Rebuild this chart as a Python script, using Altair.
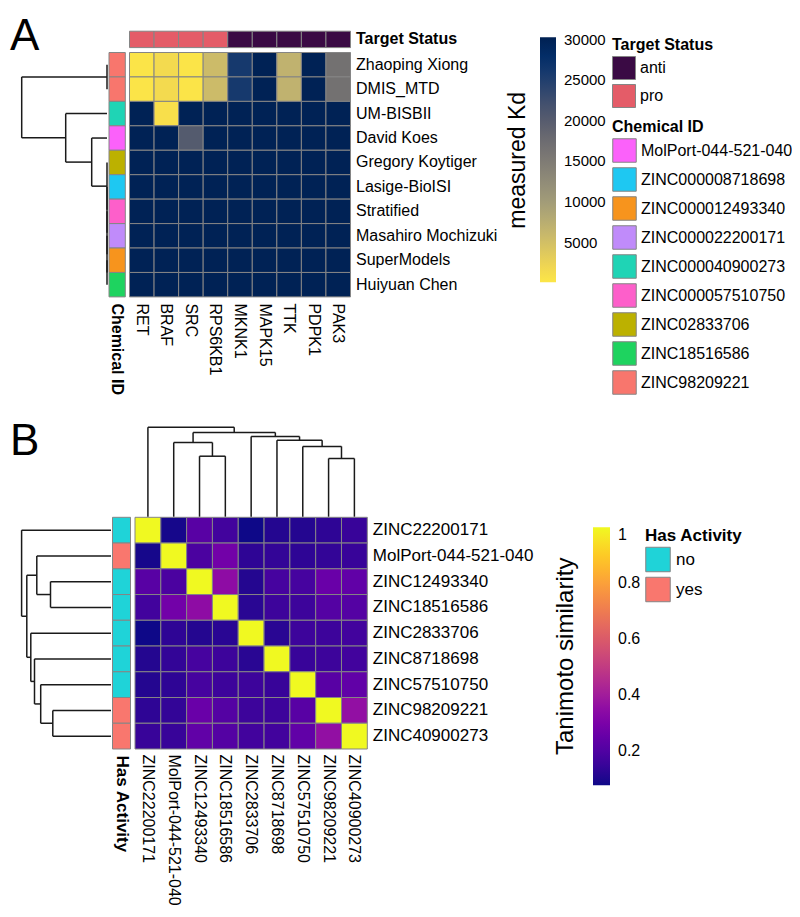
import altair as alt
import pandas as pd

# ---------------- Panel A data ----------------
targets = ["RET", "BRAF", "SRC", "RPS6KB1", "MKNK1", "MAPK15", "TTK", "PDPK1", "PAK3"]
target_status = ["pro", "pro", "pro", "pro", "anti", "anti", "anti", "anti", "anti"]
teams = ["Zhaoping Xiong", "DMIS_MTD", "UM-BISBII", "David Koes", "Gregory Koytiger",
         "Lasige-BioISI", "Stratified", "Masahiro Mochizuki", "SuperModels", "Huiyuan Chen"]
team_chemical = ["ZINC98209221", "ZINC98209221", "ZINC000040900273", "MolPort-044-521-040",
                 "ZINC02833706", "ZINC000008718698", "ZINC000057510750", "ZINC000022200171",
                 "ZINC000012493340", "ZINC18516586"]
kd_rows = [
    [300, 1500, 300, 5600, 26000, 30000, 6800, 30000, 16700],
    [300, 1500, 300, 5600, 26000, 30000, 6800, 30000, 16700],
    [30000, 900, 30000, 30000, 30000, 30000, 30000, 30000, 30000],
    [30000, 30000, 20300, 30000, 30000, 30000, 30000, 30000, 30000],
    [30000, 30000, 30000, 30000, 30000, 30000, 30000, 30000, 30000],
    [30000, 30000, 30000, 30000, 30000, 30000, 30000, 30000, 30000],
    [30000, 30000, 30000, 30000, 30000, 30000, 30000, 30000, 30000],
    [30000, 30000, 30000, 30000, 30000, 30000, 30000, 30000, 30000],
    [30000, 30000, 30000, 30000, 30000, 30000, 30000, 30000, 30000],
    [30000, 30000, 30000, 30000, 30000, 30000, 30000, 30000, 30000],
]
kd_ticks = [5000, 10000, 15000, 20000, 25000, 30000]
team_merges = [
    ("Zhaoping Xiong", "DMIS_MTD", 0.0),
    ("SuperModels", "Huiyuan Chen", 0.0),
    ("Masahiro Mochizuki", "n1", 0.0),
    ("Stratified", "n2", 0.0),
    ("Lasige-BioISI", "n3", 0.0),
    ("Gregory Koytiger", "n4", 0.0),
    ("David Koes", "n5", 15.3),
    ("UM-BISBII", "n6", 41.3),
    ("n0", "n7", 85.3),
]
status_domain = ["anti", "pro"]
status_colors = ["#3a0a44", "#e45c68"]
chem_domain = ["MolPort-044-521-040", "ZINC000008718698", "ZINC000012493340", "ZINC000022200171",
               "ZINC000040900273", "ZINC000057510750", "ZINC02833706", "ZINC18516586", "ZINC98209221"]
chem_colors = ["#fb61fa", "#1ec8f2", "#f7941d", "#c08bfa", "#1fd4b5", "#fd5fca", "#bcb100",
               "#1ed35f", "#f8766d"]

# ---------------- Panel B data ----------------
compounds = ["ZINC22200171", "MolPort-044-521-040", "ZINC12493340", "ZINC18516586", "ZINC2833706",
             "ZINC8718698", "ZINC57510750", "ZINC98209221", "ZINC40900273"]
has_activity = ["no", "yes", "no", "no", "no", "no", "no", "yes", "yes"]
tanimoto_rows = [
    [1.00, 0.09, 0.22, 0.17, 0.08, 0.11, 0.11, 0.13, 0.15],
    [0.09, 1.00, 0.19, 0.28, 0.13, 0.14, 0.13, 0.14, 0.15],
    [0.22, 0.19, 1.00, 0.35, 0.11, 0.18, 0.18, 0.26, 0.24],
    [0.17, 0.28, 0.35, 1.00, 0.12, 0.16, 0.16, 0.21, 0.21],
    [0.08, 0.13, 0.11, 0.12, 1.00, 0.12, 0.16, 0.16, 0.17],
    [0.11, 0.14, 0.18, 0.16, 0.12, 1.00, 0.15, 0.16, 0.17],
    [0.11, 0.13, 0.18, 0.16, 0.16, 0.15, 1.00, 0.22, 0.24],
    [0.13, 0.14, 0.26, 0.21, 0.16, 0.16, 0.22, 1.00, 0.36],
    [0.15, 0.15, 0.24, 0.21, 0.17, 0.17, 0.24, 0.36, 1.00],
]
tanimoto_ticks = [0.2, 0.4, 0.6, 0.8, 1.0]
compound_merges = [
    ("ZINC98209221", "ZINC40900273", 58.2),
    ("ZINC57510750", "n0", 70.3),
    ("ZINC8718698", "n1", 76.5),
    ("ZINC2833706", "n2", 80.2),
    ("ZINC12493340", "ZINC18516586", 60.5),
    ("MolPort-044-521-040", "n4", 74.2),
    ("n5", "n3", 84.2),
    ("ZINC22200171", "n6", 89.4),
]
activity_domain = ["no", "yes"]
activity_colors = ["#1fd3d8", "#f9776e"]

# ---------------- layout (pixels, chart coordinates) ----------------
W, H = 784, 901
A_X = [121.5, 342.5]
A_Y = [44.5, 288.9]
A_TOP = [23.2, 39.6]
A_ANN = [101.0, 117.3]
A_DEN = [99.0, 13.7]
B_X = [127.0, 359.3]
B_Y = [509.3, 741.0]
B_ANN = [104.5, 122.5]
B_DEN_L = [103.0, 13.6]
B_DEN_T = [508.7, 419.3]
GRID = "#858585"
FONT = "Liberation Sans"


def dendro(leaves, merges):
    pos = {n: i + 0.5 for i, n in enumerate(leaves)}
    hgt = {n: 0.0 for n in leaves}
    rows = []
    for k, (a, b, h) in enumerate(merges):
        for c in (a, b):
            rows.append({"h1": hgt[c], "h2": h, "p1": pos[c], "p2": pos[c]})
        rows.append({"h1": h, "h2": h, "p1": pos[a], "p2": pos[b]})
        pos[f"n{k}"] = (pos[a] + pos[b]) / 2
        hgt[f"n{k}"] = h
    return pd.DataFrame(rows)


def band(domain, rng):
    return alt.Scale(domain=domain, range=rng, paddingInner=0, paddingOuter=0)


def lin(domain, rng):
    return alt.Scale(domain=domain, range=rng, zero=False, nice=False)


def ax(orient, offset, size, angle=0, bold=False, pad=5):
    kw = dict(orient=orient, offset=offset, ticks=False, domain=False, grid=False,
              labelPadding=pad, labelFontSize=size, labelFontWeight="bold" if bold else "normal",
              labelOverlap=False, labelLimit=400, title=None, labelColor="black", labelFont=FONT)
    if angle:
        kw.update(labelAngle=angle, labelAlign="left", labelBaseline="middle")
    return alt.Axis(**kw)


# ---------------- Panel A ----------------
dfA = pd.DataFrame([{"team": t, "target": g, "kd": kd_rows[i][j]}
                    for i, t in enumerate(teams) for j, g in enumerate(targets)])
heatA = alt.Chart(dfA).mark_rect(stroke=GRID, strokeWidth=1).encode(
    x=alt.X("target:N", scale=band(targets, A_X), axis=ax("bottom", A_Y[1] - H, 16, angle=90, pad=6)),
    y=alt.Y("team:N", scale=band(teams, A_Y), axis=ax("right", A_X[1] - W, 16)),
    color=alt.Color("kd:Q", scale=alt.Scale(scheme="cividis", reverse=True, domain=[100, 30300]),
                    legend=alt.Legend(orient="none", legendX=499, legendY=29.3, direction="vertical",
                                      title="measured Kd", titleOrient="left", titleLimit=400,
                                      titleAnchor="middle", titleFontSize=23, titleFontWeight="normal",
                                      titlePadding=9, gradientLength=245, gradientThickness=16,
                                      gradientStrokeWidth=0, values=kd_ticks, format="d",
                                      labelFontSize=15, labelOffset=8, padding=0)),
)

dfTop = pd.DataFrame({"target": targets, "status": target_status, "row": "Target Status"})
topA = alt.Chart(dfTop).mark_rect(stroke=GRID, strokeWidth=1).encode(
    x=alt.X("target:N", scale=band(targets, A_X), axis=None),
    y=alt.Y("row:N", scale=band(["Target Status"], A_TOP), axis=ax("right", A_X[1] - W, 16, bold=True)),
    color=alt.Color("status:N", scale=alt.Scale(domain=status_domain, range=status_colors),
                    legend=alt.Legend(orient="none", legendX=604, legendY=29, title="Target Status",
                                      titleFontSize=16, titleFontWeight="bold", titlePadding=3,
                                      symbolType="square", symbolSize=529, symbolStrokeColor=GRID,
                                      symbolStrokeWidth=1, labelFontSize=16, labelOffset=4,
                                      rowPadding=0, padding=0)),
)

dfChem = pd.DataFrame({"team": teams, "chem": team_chemical, "col": "Chemical ID"})
chemA = alt.Chart(dfChem).mark_rect(stroke=GRID, strokeWidth=1).encode(
    x=alt.X("col:N", scale=band(["Chemical ID"], A_ANN), axis=ax("bottom", A_Y[1] - H, 16, angle=90, bold=True, pad=6)),
    y=alt.Y("team:N", scale=band(teams, A_Y), axis=None),
    color=alt.Color("chem:N", scale=alt.Scale(domain=chem_domain, range=chem_colors),
                    legend=alt.Legend(orient="none", legendX=604, legendY=111, title="Chemical ID",
                                      titleFontSize=16, titleFontWeight="bold", titlePadding=3,
                                      symbolType="square", symbolSize=552, symbolStrokeColor=GRID,
                                      symbolStrokeWidth=1, labelFontSize=16, labelOffset=4,
                                      labelLimit=400, rowPadding=0, padding=0)),
)

denA = alt.Chart(dendro(teams, team_merges)).mark_rule(color="#1a1a1a", strokeWidth=1.5).encode(
    x=alt.X("h1:Q", scale=lin([0, 85.3], A_DEN), axis=None),
    x2="h2:Q",
    y=alt.Y("p1:Q", scale=lin([0, len(teams)], A_Y), axis=None),
    y2="p2:Q",
)

# ---------------- Panel B ----------------
dfB = pd.DataFrame([{"row": r, "col": c, "sim": tanimoto_rows[i][j]}
                    for i, r in enumerate(compounds) for j, c in enumerate(compounds)])
heatB = alt.Chart(dfB).mark_rect(stroke=GRID, strokeWidth=1).encode(
    x=alt.X("col:N", scale=band(compounds, B_X), axis=ax("bottom", B_Y[1] - H, 16, angle=90, pad=5)),
    y=alt.Y("row:N", scale=band(compounds, B_Y), axis=ax("right", B_X[1] - W, 17)),
    color=alt.Color("sim:Q", scale=alt.Scale(scheme="plasma", domain=[0.078, 1.0]),
                    legend=alt.Legend(orient="none", legendX=546, legendY=519.3, direction="vertical",
                                      title="Tanimoto similarity", titleOrient="left", titleLimit=400,
                                      titleAnchor="middle", titleFontSize=24, titleFontWeight="normal",
                                      titlePadding=14, gradientLength=258, gradientThickness=17,
                                      gradientStrokeWidth=0, values=tanimoto_ticks, format="~g",
                                      labelFontSize=16, labelOffset=8, padding=0)),
)

dfAct = pd.DataFrame({"row": compounds, "act": has_activity, "col": "Has Activity"})
actB = alt.Chart(dfAct).mark_rect(stroke=GRID, strokeWidth=1).encode(
    x=alt.X("col:N", scale=band(["Has Activity"], B_ANN), axis=ax("bottom", B_Y[1] - H, 17, angle=90, bold=True, pad=6)),
    y=alt.Y("row:N", scale=band(compounds, B_Y), axis=None),
    color=alt.Color("act:N", scale=alt.Scale(domain=activity_domain, range=activity_colors),
                    legend=alt.Legend(orient="none", legendX=637, legendY=519.5, title="Has Activity",
                                      titleFontSize=17, titleFontWeight="bold", titlePadding=2,
                                      symbolType="square", symbolSize=600, symbolStrokeColor=GRID,
                                      symbolStrokeWidth=1, labelFontSize=17, labelOffset=5,
                                      rowPadding=0, padding=0)),
)

dfDenB = dendro(compounds, compound_merges)
denBL = alt.Chart(dfDenB).mark_rule(color="#1a1a1a", strokeWidth=1.5).encode(
    x=alt.X("h1:Q", scale=lin([0, 89.4], B_DEN_L), axis=None),
    x2="h2:Q",
    y=alt.Y("p1:Q", scale=lin([0, len(compounds)], B_Y), axis=None),
    y2="p2:Q",
)
denBT = alt.Chart(dfDenB).mark_rule(color="#1a1a1a", strokeWidth=1.5).encode(
    x=alt.X("p1:Q", scale=lin([0, len(compounds)], B_X), axis=None),
    x2="p2:Q",
    y=alt.Y("h1:Q", scale=lin([0, 89.4], B_DEN_T), axis=None),
    y2="h2:Q",
)

# ---------------- panel letters ----------------
letterA = alt.Chart(pd.DataFrame({"t": ["A"]})).mark_text(
    fontSize=44, font=FONT, align="left", baseline="alphabetic", color="black").encode(
    text="t:N", x=alt.value(2), y=alt.value(42))
letterB = alt.Chart(pd.DataFrame({"t": ["B"]})).mark_text(
    fontSize=44, font=FONT, align="left", baseline="alphabetic", color="black").encode(
    text="t:N", x=alt.value(2), y=alt.value(447))

chart = alt.layer(
    heatA, topA, chemA, denA, heatB, actB, denBL, denBT, letterA, letterB
).resolve_scale(
    x="independent", y="independent", color="independent"
).properties(
    width=W, height=H, autosize=alt.AutoSizeParams(type="none"), padding=0, background="white"
).configure_view(stroke=None).configure_legend(
    labelFont=FONT, titleFont=FONT, labelColor="black", titleColor="black"
).configure_axis(labelFont=FONT)

chart.save("out.html", embed_options={"renderer": "svg", "actions": False})
